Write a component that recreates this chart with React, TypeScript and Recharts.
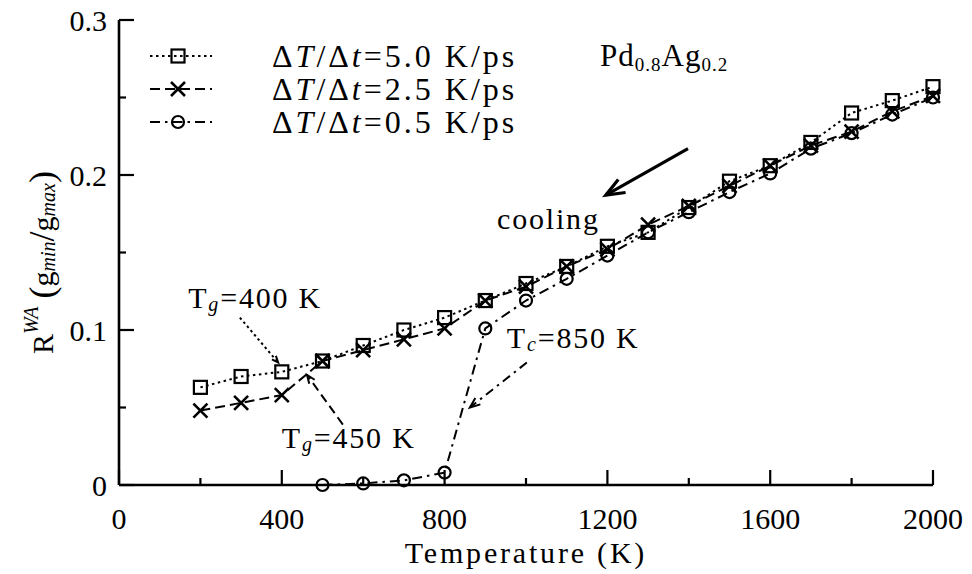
import React from 'react'
import { LineChart, Line, XAxis, YAxis, Legend, ReferenceLine, ReferenceDot } from 'recharts'

// temperature grid (K) shared by all three cooling runs
const temperatures = [200, 300, 400, 500, 600, 700, 800, 900, 1000, 1100, 1200, 1300, 1400, 1500, 1600, 1700, 1800, 1900, 2000]

// R^WA values
const rate50 = [0.063, 0.070, 0.073, 0.080, 0.090, 0.100, 0.108, 0.119, 0.130, 0.141, 0.154, 0.163, 0.179, 0.196, 0.206, 0.221, 0.240, 0.248, 0.257]
const rate25 = [0.048, 0.053, 0.058, 0.080, 0.087, 0.094, 0.101, 0.119, 0.128, 0.141, 0.152, 0.168, 0.180, 0.193, 0.206, 0.219, 0.228, 0.241, 0.251]
const rate05 = [null, null, null, 0.0, 0.001, 0.003, 0.008, 0.101, 0.119, 0.133, 0.148, 0.163, 0.176, 0.189, 0.201, 0.217, 0.227, 0.239, 0.250]

const rateLabels = ['5.0', '2.5', '0.5']

const xTicks = [0, 200, 400, 600, 800, 1000, 1200, 1400, 1600, 1800, 2000]
const yTicks = [0, 0.05, 0.1, 0.15, 0.2, 0.25, 0.3]

const FONT = '"Liberation Serif", "DejaVu Serif", "Noto Serif", Tinos, serif'
const INK = '#000'

const data = temperatures.map((t, i) => ({ t, r50: rate50[i], r25: rate25[i], r05: rate05[i] }))

const DASH: Record<string, string> = {
  r50: '2.5 3.5',
  r25: '10 5',
  r05: '10 5 2.5 5',
}

function SquareMark({ cx, cy }: any) {
  return <rect x={cx - 6.5} y={cy - 6.5} width={13} height={13} fill="none" stroke={INK} strokeWidth={2.2} />
}
function CrossMark({ cx, cy }: any) {
  const s = 7
  return (
    <path
      d={`M${cx - s},${cy - s}L${cx + s},${cy + s}M${cx - s},${cy + s}L${cx + s},${cy - s}`}
      stroke={INK}
      strokeWidth={2.6}
      fill="none"
    />
  )
}
function RingMark({ cx, cy }: any) {
  return <circle cx={cx} cy={cy} r={6} fill="none" stroke={INK} strokeWidth={2.2} />
}

const MARKS: Record<string, any> = { r50: SquareMark, r25: CrossMark, r05: RingMark }

function dotFor(key: string) {
  const Mark = MARKS[key]
  return (p: any) => {
    if (p.value == null || p.cx == null || p.cy == null) return <g key={`${key}-${p.index}`} />
    return (
      <g key={`${key}-${p.index}`}>
        <Mark cx={p.cx} cy={p.cy} />
      </g>
    )
  }
}

// inward ticks on all four sides
function BottomTick({ x, y, payload }: any) {
  const v = payload.value
  const major = v % 400 === 0
  return (
    <g>
      <line x1={x} x2={x} y1={y} y2={y - (major ? 15 : 7)} stroke={INK} strokeWidth={2.2} />
      {major && (
        <text x={x} y={y + 33} textAnchor="middle" dominantBaseline="central" fontFamily={FONT} fontSize={30} fill={INK}>
          {v}
        </text>
      )}
    </g>
  )
}
function TopTick({ x, y, payload }: any) {
  const major = payload.value % 400 === 0
  return <line x1={x} x2={x} y1={y} y2={y + (major ? 15 : 7)} stroke={INK} strokeWidth={2.2} />
}
function LeftTick({ x, y, payload }: any) {
  const v = payload.value
  const major = Math.round(v * 100) % 10 === 0
  return (
    <g>
      <line x1={x} x2={x + (major ? 15 : 7)} y1={y} y2={y} stroke={INK} strokeWidth={2.2} />
      {major && (
        <text x={x - 12} y={y} textAnchor="end" dominantBaseline="central" fontFamily={FONT} fontSize={30} fill={INK}>
          {v === 0 ? '0' : v.toFixed(1)}
        </text>
      )}
    </g>
  )
}
function RightTick({ x, y, payload }: any) {
  const major = Math.round(payload.value * 100) % 10 === 0
  return <line x1={x} x2={x - (major ? 15 : 7)} y1={y} y2={y} stroke={INK} strokeWidth={2.2} />
}

function XLabel({ viewBox }: any) {
  const { x, y, width } = viewBox
  return (
    <text x={x + width / 2} y={y + 67} textAnchor="middle" dominantBaseline="central" fontFamily={FONT} fontSize={30} letterSpacing={2.8} fill={INK}>
      Temperature (K)
    </text>
  )
}

function YLabel({ viewBox }: any) {
  const cx = viewBox.x + 42
  const cy = viewBox.y + viewBox.height / 2 + 10
  return (
    <text
      x={cx}
      y={cy}
      transform={`rotate(-90 ${cx} ${cy})`}
      textAnchor="middle"
      dominantBaseline="central"
      fontFamily={FONT}
      fontSize={30}
      fill={INK}
    >
      <tspan>R</tspan>
      <tspan fontSize={20} fontStyle="italic" dy={-11}>WA</tspan>
      <tspan dy={11} dx={8} fontSize={36}>(</tspan>
      <tspan>g</tspan>
      <tspan fontSize={20} fontStyle="italic" dy={6}>min</tspan>
      <tspan dy={-6} fontSize={36}>/</tspan>
      <tspan>g</tspan>
      <tspan fontSize={20} fontStyle="italic" dy={6}>max</tspan>
      <tspan dy={-6} fontSize={36}>)</tspan>
    </text>
  )
}

function arrowShape(dash: string | undefined, width: number, head: number) {
  return (p: any) => {
    const { x1, y1, x2, y2 } = p
    const ang = Math.atan2(y2 - y1, x2 - x1)
    const a1 = ang + Math.PI - 0.38
    const a2 = ang + Math.PI + 0.38
    return (
      <g>
        <line x1={x1} y1={y1} x2={x2} y2={y2} stroke={INK} strokeWidth={width} strokeDasharray={dash} />
        <path
          d={`M${x2 + head * Math.cos(a1)},${y2 + head * Math.sin(a1)}L${x2},${y2}L${x2 + head * Math.cos(a2)},${y2 + head * Math.sin(a2)}`}
          fill="none"
          stroke={INK}
          strokeWidth={width}
        />
      </g>
    )
  }
}

function textShape(render: () => React.ReactNode) {
  return (p: any) => (
    <text x={p.cx} y={p.cy} dominantBaseline="central" fontFamily={FONT} fontSize={30} letterSpacing={1.8} fill={INK}>
      {render()}
    </text>
  )
}

const tgLabel = (v: string) => () => (
  <>
    <tspan>T</tspan>
    <tspan fontSize={20} fontStyle="italic" dy={7}>g</tspan>
    <tspan dy={-7}>={v} K</tspan>
  </>
)
const tcLabel = () => (
  <>
    <tspan>T</tspan>
    <tspan fontSize={20} fontStyle="italic" dy={7}>c</tspan>
    <tspan dy={-7}>=850 K</tspan>
  </>
)

const SERIES = [
  { key: 'r50', label: rateLabels[0] },
  { key: 'r25', label: rateLabels[1] },
  { key: 'r05', label: rateLabels[2] },
]

function LegendBox() {
  const rowY = [56, 89, 122]
  return (
    <div style={{ position: 'relative', width: 972, height: 150, fontFamily: FONT, color: INK }}>
      {SERIES.map((s, i) => {
        const Mark = MARKS[s.key]
        return (
          <React.Fragment key={s.key}>
            <svg style={{ position: 'absolute', left: 146, top: rowY[i] - 15 }} width={70} height={30}>
              <line x1={4} x2={66} y1={15} y2={15} stroke={INK} strokeWidth={2} strokeDasharray={DASH[s.key]} />
              <Mark cx={32} cy={15} />
            </svg>
            <div
              style={{
                position: 'absolute',
                left: 272,
                top: rowY[i] - 20,
                fontSize: 32,
                lineHeight: '40px',
                letterSpacing: 3,
                whiteSpace: 'nowrap',
              }}
            >
              Δ<i>T</i>/Δ<i>t</i>={s.label} K/ps
            </div>
          </React.Fragment>
        )
      })}
      <div style={{ position: 'absolute', left: 600, top: rowY[0] - 20, fontSize: 31, lineHeight: '40px', whiteSpace: 'nowrap', letterSpacing: 1 }}>
        Pd<sub style={{ fontSize: 19, verticalAlign: '-5px' }}>0.8</sub>Ag<sub style={{ fontSize: 19, verticalAlign: '-5px' }}>0.2</sub>
      </div>
    </div>
  )
}

export default function App() {
  return (
    <div style={{ position: 'absolute', left: 0, top: 0, width: 972, height: 574, background: '#fff' }}>
      <LineChart width={972} height={574} data={data} margin={{ top: 20, right: 39, left: 0, bottom: 0 }}>
        <XAxis
          dataKey="t"
          type="number"
          domain={[0, 2000]}
          ticks={xTicks}
          interval={0}
          height={89}
          tickSize={0}
          tickMargin={0}
          tickLine={false}
          axisLine={{ stroke: INK, strokeWidth: 2.6 }}
          tick={<BottomTick />}
          label={<XLabel />}
        />
        <XAxis
          xAxisId="top"
          orientation="top"
          type="number"
          domain={[0, 2000]}
          ticks={xTicks}
          interval={0}
          height={0}
          tickSize={0}
          tickMargin={0}
          tickLine={false}
          axisLine={{ stroke: INK, strokeWidth: 2.6 }}
          tick={<TopTick />}
        />
        <YAxis
          type="number"
          domain={[0, 0.3]}
          ticks={yTicks}
          interval={0}
          width={119}
          tickSize={0}
          tickMargin={0}
          tickLine={false}
          axisLine={{ stroke: INK, strokeWidth: 2.6 }}
          tick={<LeftTick />}
          label={<YLabel />}
        />
        <YAxis
          yAxisId="right"
          orientation="right"
          type="number"
          domain={[0, 0.3]}
          ticks={yTicks}
          interval={0}
          width={0}
          tickSize={0}
          tickMargin={0}
          tickLine={false}
          axisLine={{ stroke: INK, strokeWidth: 2.6 }}
          tick={<RightTick />}
        />
        <Legend
          layout="horizontal"
          verticalAlign="middle"
          align="center"
          wrapperStyle={{ left: 0, top: 0, width: 972, height: 150 }}
          content={() => <LegendBox />}
        />

        {SERIES.map((s) => (
          <Line
            key={s.key}
            dataKey={s.key}
            stroke={INK}
            strokeWidth={2}
            strokeDasharray={DASH[s.key]}
            dot={dotFor(s.key)}
            activeDot={false}
            isAnimationActive={false}
            connectNulls={false}
          />
        ))}

        {/* annotations */}
        <ReferenceLine segment={[{ x: 297, y: 0.108 }, { x: 391, y: 0.079 }]} shape={arrowShape('2.5 3', 2, 7)} />
        <ReferenceLine segment={[{ x: 550, y: 0.039 }, { x: 462, y: 0.071 }]} shape={arrowShape('9 5', 2, 9)} />
        <ReferenceLine segment={[{ x: 1002, y: 0.079 }, { x: 862, y: 0.05 }]} shape={arrowShape('9 5 2.5 5', 2, 11)} />
        <ReferenceLine segment={[{ x: 1398, y: 0.217 }, { x: 1196, y: 0.187 }]} shape={arrowShape(undefined, 3.2, 20)} />

        <ReferenceDot x={170} y={0.121} r={0} shape={textShape(tgLabel('400'))} />
        <ReferenceDot x={400} y={0.031} r={0} shape={textShape(tgLabel('450'))} />
        <ReferenceDot x={953} y={0.0955} r={0} shape={textShape(tcLabel)} />
        <ReferenceDot x={929} y={0.172} r={0} shape={textShape(() => 'cooling')} />
      </LineChart>
    </div>
  )
}
